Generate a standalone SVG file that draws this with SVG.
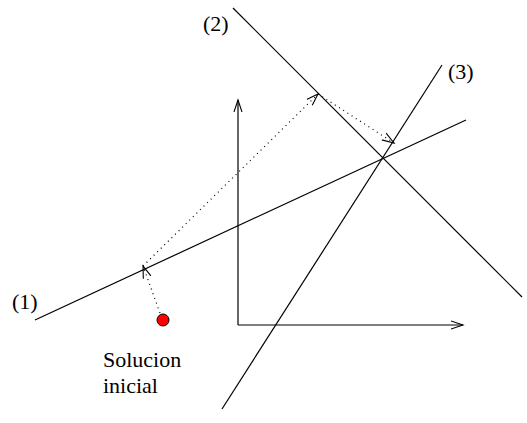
<svg xmlns="http://www.w3.org/2000/svg" width="527" height="423" viewBox="0 0 527 423">
<style>
.ln{stroke:#000;stroke-width:1.2;fill:none}
.dot{stroke:#000;stroke-width:1.2;fill:none;stroke-dasharray:1 4}
.lbl{font-family:"Liberation Serif",serif;font-size:22px;fill:#000}
</style>
<defs>
<marker id="ah" markerWidth="14" markerHeight="10" refX="12" refY="5" orient="auto" markerUnits="userSpaceOnUse">
<path d="M0,1 L12,5 L0,9" fill="none" stroke="#000" stroke-width="1.1"/>
</marker>
</defs>
<g id="connectors">
<line id="line1" class="ln" x1="35" y1="320" x2="466" y2="120"/>
<line id="line2" class="ln" x1="233" y1="8" x2="522" y2="297"/>
<line id="line3" class="ln" x1="442" y1="65" x2="222" y2="409"/>
<line id="axis-y" class="ln" x1="238" y1="325" x2="238" y2="100" marker-end="url(#ah)"/>
<line id="axis-x" class="ln" x1="238" y1="325" x2="463" y2="325" marker-end="url(#ah)"/>
<line class="dot" x1="160" y1="313" x2="143" y2="266" marker-end="url(#ah)"/>
<line class="dot" x1="143" y1="266" x2="318" y2="94" marker-end="url(#ah)"/>
<line class="dot" x1="318" y1="94" x2="394" y2="143" marker-end="url(#ah)"/>
</g>
<g id="solucion">
<circle cx="163" cy="320" r="6" fill="#ff0000" stroke="#000" stroke-width="1"/>
<text class="lbl" x="103" y="367">Solucion</text>
<text class="lbl" x="103" y="393">inicial</text>
</g>
<g id="label1"><text class="lbl" x="12" y="309">(1)</text></g>
<g id="label2"><text class="lbl" x="203" y="31">(2)</text></g>
<g id="label3"><text class="lbl" x="448" y="79">(3)</text></g>
</svg>
